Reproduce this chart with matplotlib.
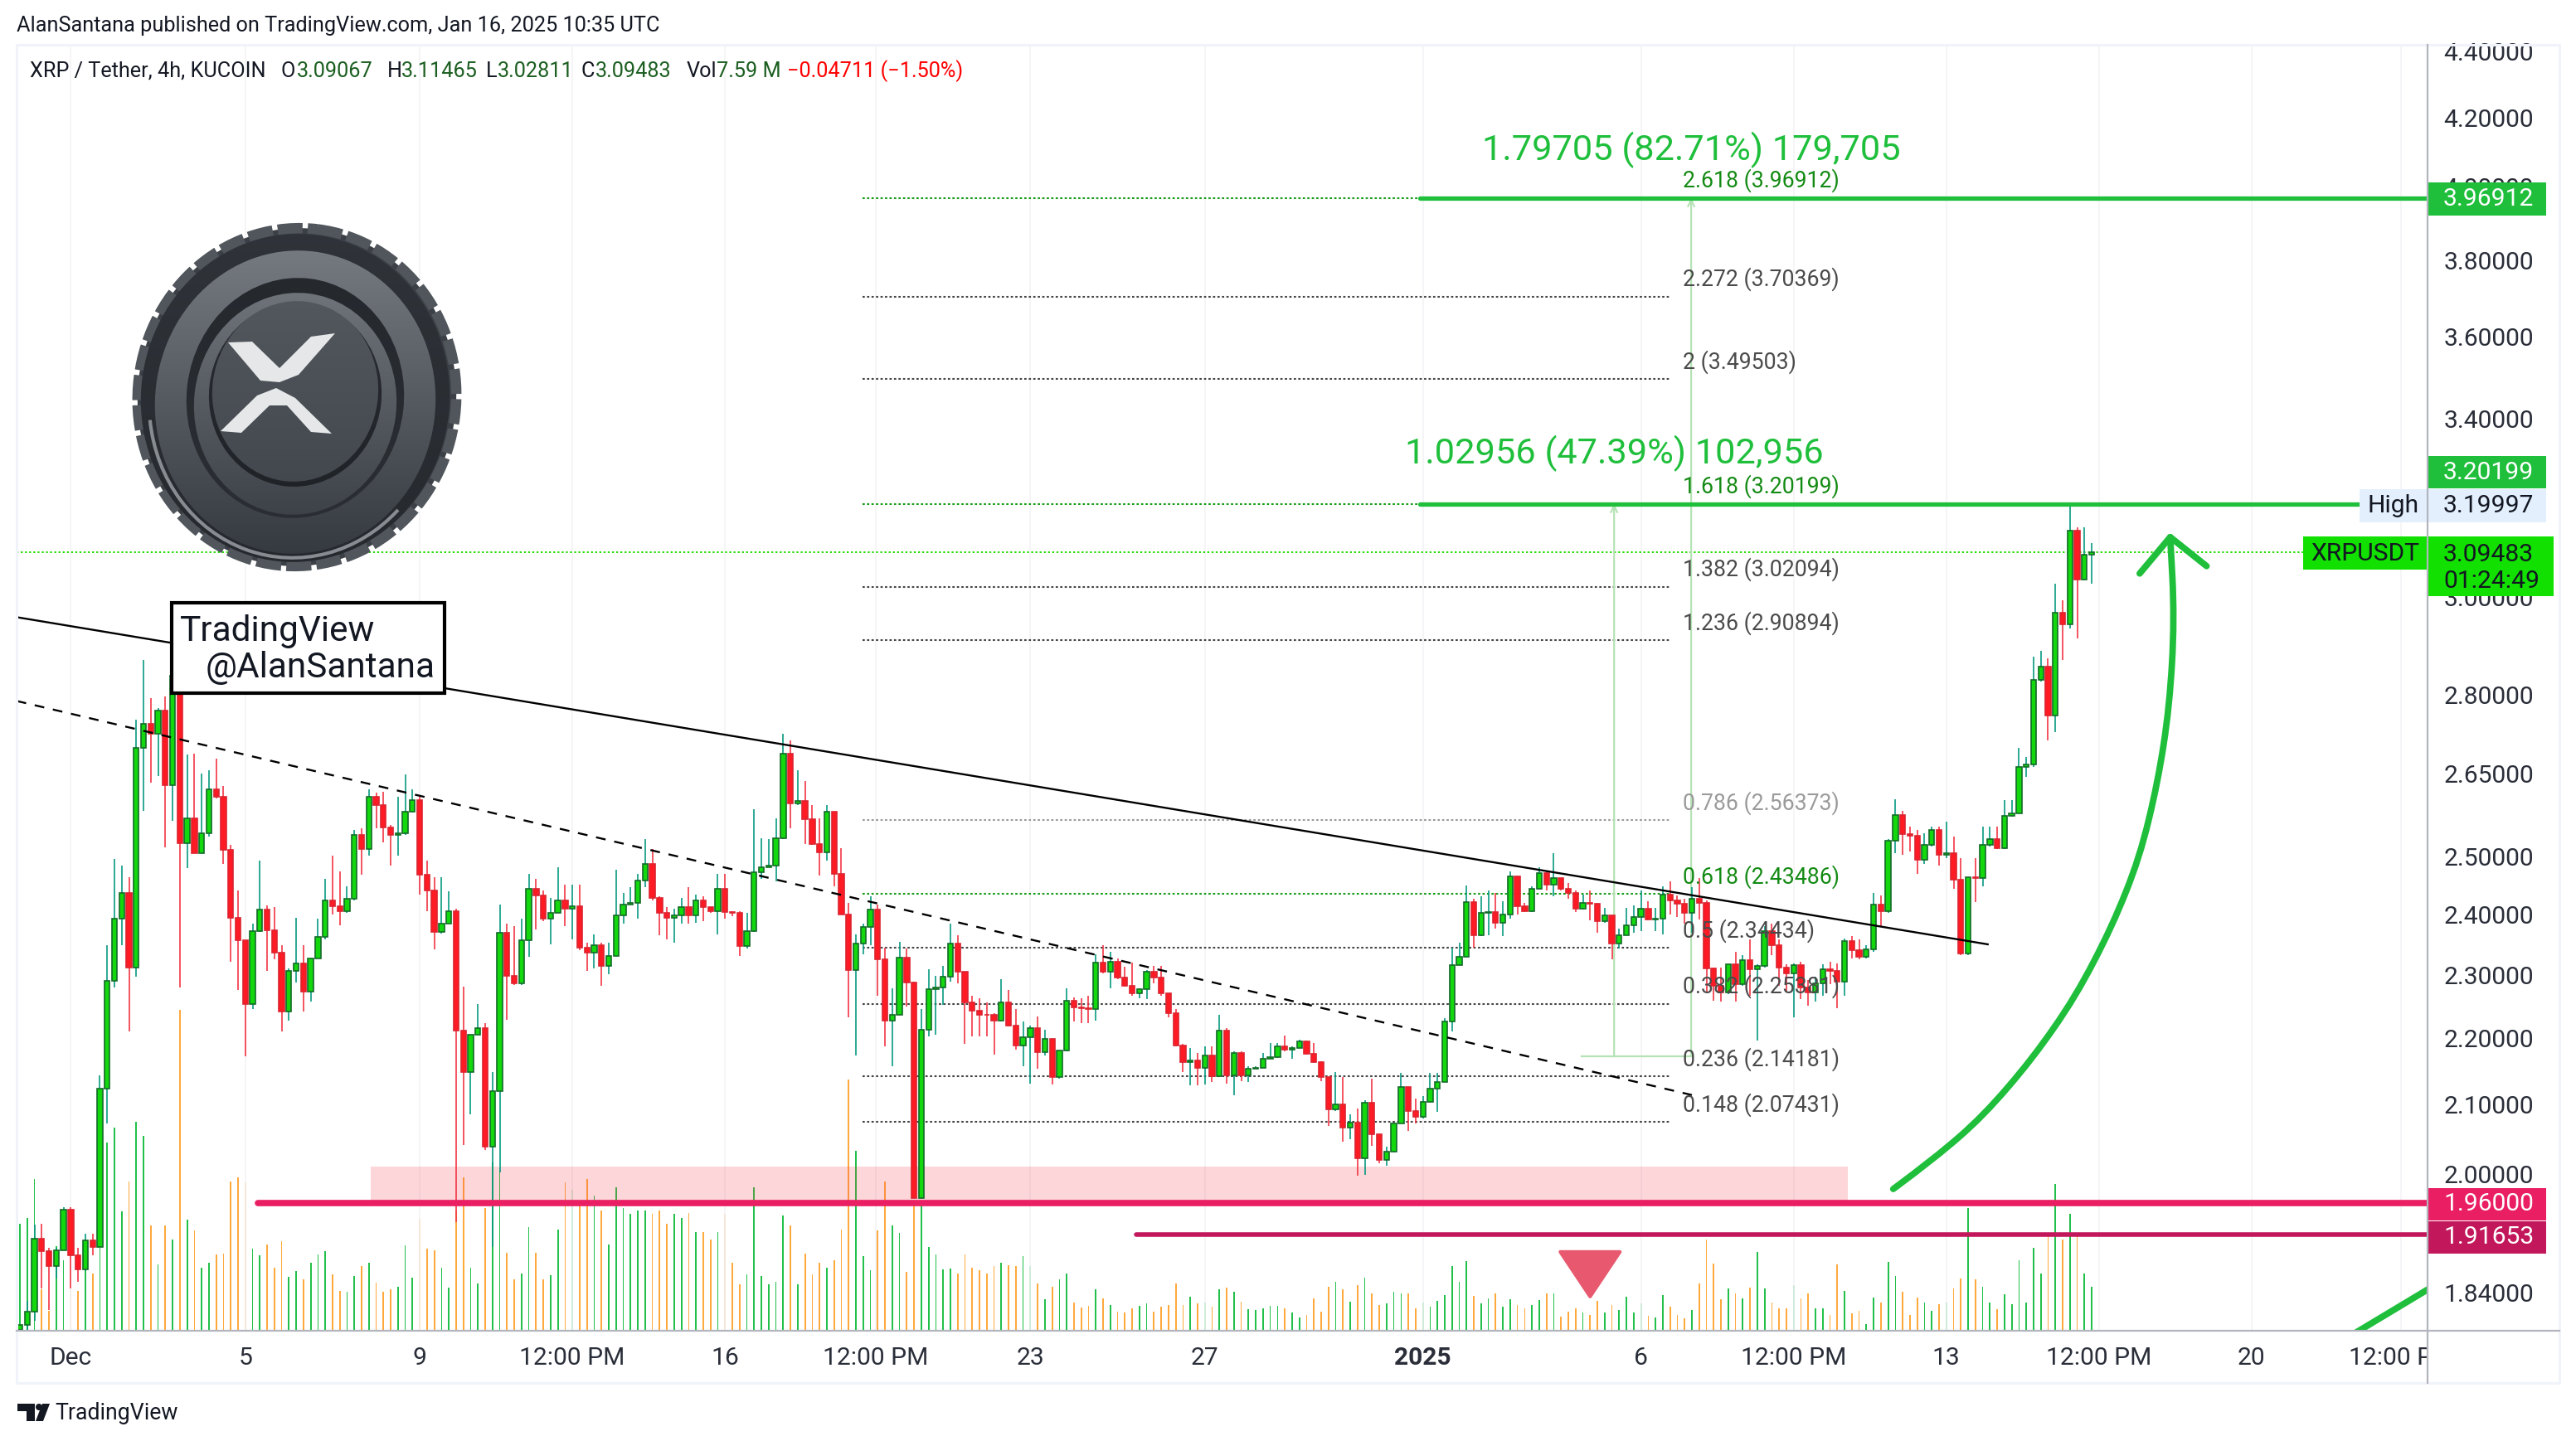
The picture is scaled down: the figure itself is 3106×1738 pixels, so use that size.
import matplotlib
matplotlib.use('Agg')
import matplotlib.pyplot as plt
import numpy as np
from matplotlib.patches import Rectangle, Ellipse, Polygon, Arc, PathPatch
from matplotlib.path import Path
from matplotlib.ticker import FixedLocator, FixedFormatter, NullLocator

plt.rcParams['font.family'] = ['Roboto', 'DejaVu Sans']

first_open = 1.793
closes = [1.799, 1.816, 1.911, 1.895, 1.875, 1.896, 1.950, 1.889, 1.870, 1.909, 1.900, 2.123, 2.290, 2.393, 2.436, 2.312,
  2.697, 2.744, 2.724, 2.770, 2.628, 2.838, 2.523, 2.567, 2.506, 2.541, 2.620, 2.606, 2.511, 2.394, 2.357, 2.254,
  2.372, 2.408, 2.373, 2.336, 2.242, 2.307, 2.318, 2.273, 2.327, 2.362, 2.423, 2.414, 2.405, 2.426, 2.538, 2.513,
  2.606, 2.592, 2.551, 2.537, 2.540, 2.580, 2.600, 2.468, 2.441, 2.371, 2.384, 2.406, 2.212, 2.148, 2.205, 2.216,
  2.039, 2.120, 2.369, 2.299, 2.286, 2.357, 2.444, 2.432, 2.393, 2.402, 2.423, 2.409, 2.414, 2.345, 2.336, 2.348,
  2.314, 2.331, 2.398, 2.417, 2.420, 2.458, 2.486, 2.428, 2.402, 2.394, 2.399, 2.413, 2.398, 2.423, 2.413, 2.406,
  2.443, 2.404, 2.402, 2.347, 2.372, 2.472, 2.481, 2.483, 2.532, 2.686, 2.595, 2.599, 2.566, 2.522, 2.507, 2.580,
  2.469, 2.400, 2.308, 2.351, 2.379, 2.408, 2.326, 2.228, 2.237, 2.328, 2.288, 1.966, 2.213, 2.277, 2.280, 2.297,
  2.351, 2.305, 2.256, 2.243, 2.237, 2.236, 2.228, 2.256, 2.219, 2.189, 2.201, 2.216, 2.178, 2.199, 2.141, 2.181,
  2.259, 2.248, 2.247, 2.246, 2.320, 2.305, 2.321, 2.296, 2.283, 2.270, 2.277, 2.305, 2.296, 2.270, 2.239, 2.189,
  2.164, 2.166, 2.155, 2.173, 2.142, 2.212, 2.144, 2.177, 2.144, 2.153, 2.155, 2.168, 2.171, 2.187, 2.183, 2.185,
  2.195, 2.176, 2.163, 2.141, 2.093, 2.100, 2.066, 2.073, 2.022, 2.102, 2.056, 2.020, 2.032, 2.072, 2.126, 2.091,
  2.082, 2.104, 2.123, 2.134, 2.226, 2.316, 2.329, 2.421, 2.365, 2.402, 2.404, 2.386, 2.400, 2.465, 2.414, 2.406,
  2.444, 2.470, 2.451, 2.462, 2.443, 2.437, 2.409, 2.420, 2.418, 2.388, 2.398, 2.351, 2.365, 2.381, 2.396, 2.410,
  2.391, 2.393, 2.434, 2.424, 2.418, 2.402, 2.426, 2.419, 2.311, 2.282, 2.272, 2.317, 2.285, 2.324, 2.309, 2.314,
  2.372, 2.348, 2.312, 2.302, 2.316, 2.280, 2.272, 2.287, 2.309, 2.307, 2.289, 2.356, 2.340, 2.329, 2.342, 2.416,
  2.405, 2.528, 2.574, 2.539, 2.536, 2.493, 2.520, 2.546, 2.502, 2.506, 2.459, 2.335, 2.464, 2.462, 2.520, 2.531,
  2.514, 2.572, 2.577, 2.661, 2.666, 2.830, 2.856, 2.760, 2.967, 2.943, 3.142, 3.036, 3.090, 3.09483]
highs = [1.799, 1.829, 1.930, 1.931, 1.899, 1.899, 1.954, 1.954, 1.899, 1.918, 1.918, 2.144, 2.349, 2.495, 2.483, 2.464,
  2.752, 2.870, 2.794, 2.774, 2.797, 2.902, 2.870, 2.685, 2.687, 2.650, 2.655, 2.678, 2.626, 2.520, 2.441, 2.355,
  2.384, 2.492, 2.415, 2.412, 2.349, 2.310, 2.394, 2.349, 2.327, 2.393, 2.460, 2.501, 2.474, 2.447, 2.546, 2.549,
  2.620, 2.614, 2.616, 2.556, 2.606, 2.648, 2.621, 2.606, 2.492, 2.464, 2.464, 2.439, 2.410, 2.281, 2.205, 2.254,
  2.224, 2.148, 2.417, 2.384, 2.380, 2.393, 2.469, 2.460, 2.441, 2.428, 2.480, 2.451, 2.451, 2.451, 2.353, 2.366,
  2.353, 2.353, 2.476, 2.437, 2.446, 2.469, 2.530, 2.513, 2.431, 2.412, 2.410, 2.428, 2.446, 2.433, 2.430, 2.409,
  2.469, 2.469, 2.406, 2.406, 2.402, 2.584, 2.532, 2.530, 2.568, 2.725, 2.712, 2.655, 2.636, 2.592, 2.568, 2.592,
  2.580, 2.514, 2.419, 2.367, 2.385, 2.430, 2.417, 2.345, 2.278, 2.354, 2.343, 2.289, 2.246, 2.309, 2.299, 2.315,
  2.384, 2.365, 2.305, 2.266, 2.262, 2.256, 2.239, 2.293, 2.276, 2.245, 2.226, 2.219, 2.234, 2.213, 2.199, 2.181,
  2.278, 2.264, 2.262, 2.266, 2.334, 2.349, 2.337, 2.327, 2.313, 2.320, 2.279, 2.308, 2.315, 2.315, 2.269, 2.246,
  2.191, 2.185, 2.177, 2.188, 2.188, 2.237, 2.216, 2.180, 2.180, 2.157, 2.157, 2.177, 2.193, 2.193, 2.204, 2.187,
  2.198, 2.196, 2.193, 2.165, 2.141, 2.149, 2.141, 2.085, 2.094, 2.106, 2.139, 2.056, 2.039, 2.072, 2.147, 2.126,
  2.109, 2.112, 2.147, 2.147, 2.231, 2.345, 2.353, 2.449, 2.426, 2.430, 2.440, 2.437, 2.422, 2.473, 2.465, 2.419,
  2.447, 2.480, 2.473, 2.506, 2.462, 2.454, 2.440, 2.434, 2.440, 2.419, 2.411, 2.398, 2.376, 2.411, 2.415, 2.440,
  2.422, 2.411, 2.448, 2.456, 2.432, 2.427, 2.446, 2.462, 2.424, 2.312, 2.312, 2.317, 2.338, 2.332, 2.358, 2.317,
  2.380, 2.385, 2.358, 2.317, 2.319, 2.322, 2.292, 2.297, 2.317, 2.322, 2.319, 2.360, 2.364, 2.358, 2.348, 2.437,
  2.432, 2.530, 2.602, 2.581, 2.552, 2.546, 2.541, 2.552, 2.552, 2.562, 2.535, 2.497, 2.464, 2.497, 2.552, 2.552,
  2.552, 2.601, 2.601, 2.698, 2.680, 2.876, 2.888, 2.873, 3.028, 2.992, 3.19997, 3.149, 3.149, 3.11465]
lows = [1.793, 1.793, 1.804, 1.845, 1.818, 1.858, 1.898, 1.845, 1.854, 1.868, 1.889, 1.900, 2.072, 2.280, 2.349, 2.211,
  2.297, 2.581, 2.632, 2.645, 2.515, 2.563, 2.280, 2.479, 2.506, 2.506, 2.535, 2.604, 2.486, 2.321, 2.276, 2.172,
  2.245, 2.371, 2.306, 2.326, 2.210, 2.228, 2.288, 2.242, 2.257, 2.327, 2.358, 2.400, 2.382, 2.402, 2.423, 2.468,
  2.501, 2.549, 2.525, 2.483, 2.501, 2.537, 2.578, 2.433, 2.406, 2.342, 2.368, 2.384, 1.934, 2.041, 2.085, 2.205,
  2.034, 1.900, 2.002, 2.229, 2.284, 2.284, 2.330, 2.375, 2.388, 2.350, 2.402, 2.380, 2.358, 2.340, 2.306, 2.310,
  2.283, 2.301, 2.333, 2.384, 2.417, 2.393, 2.446, 2.424, 2.365, 2.358, 2.353, 2.384, 2.384, 2.386, 2.388, 2.402,
  2.366, 2.393, 2.397, 2.331, 2.343, 2.371, 2.460, 2.481, 2.456, 2.530, 2.549, 2.592, 2.522, 2.520, 2.467, 2.492,
  2.447, 2.400, 2.233, 2.173, 2.334, 2.348, 2.266, 2.188, 2.157, 2.236, 2.249, 1.966, 1.966, 2.203, 2.206, 2.252,
  2.289, 2.286, 2.191, 2.203, 2.203, 2.203, 2.175, 2.226, 2.218, 2.183, 2.157, 2.131, 2.154, 2.173, 2.130, 2.138,
  2.180, 2.226, 2.223, 2.223, 2.228, 2.303, 2.278, 2.293, 2.281, 2.267, 2.262, 2.261, 2.286, 2.266, 2.233, 2.188,
  2.149, 2.128, 2.128, 2.130, 2.133, 2.141, 2.131, 2.114, 2.135, 2.133, 2.153, 2.155, 2.168, 2.170, 2.180, 2.168,
  2.185, 2.175, 2.162, 2.135, 2.069, 2.091, 2.046, 2.049, 1.997, 1.999, 2.040, 2.015, 2.012, 2.031, 2.072, 2.061,
  2.072, 2.080, 2.104, 2.089, 2.133, 2.211, 2.316, 2.329, 2.345, 2.364, 2.365, 2.376, 2.364, 2.393, 2.400, 2.404,
  2.404, 2.444, 2.440, 2.431, 2.440, 2.426, 2.404, 2.408, 2.390, 2.369, 2.386, 2.325, 2.343, 2.365, 2.369, 2.372,
  2.390, 2.372, 2.367, 2.400, 2.395, 2.385, 2.369, 2.392, 2.272, 2.259, 2.257, 2.269, 2.257, 2.282, 2.266, 2.197,
  2.312, 2.332, 2.282, 2.272, 2.233, 2.261, 2.251, 2.257, 2.266, 2.285, 2.247, 2.266, 2.327, 2.325, 2.327, 2.338,
  2.380, 2.402, 2.506, 2.503, 2.508, 2.469, 2.486, 2.517, 2.484, 2.497, 2.443, 2.332, 2.332, 2.421, 2.448, 2.517,
  2.512, 2.512, 2.570, 2.576, 2.644, 2.662, 2.826, 2.712, 2.728, 2.870, 2.934, 2.914, 3.035, 3.02811]
volumes = [18.5, 19.4, 26.1, 7.1, 3.5, 14.6, 12.1, 7.1, 6.9, 10.8, 9.8, 14.4, 32.5, 35.1, 20.6, 25.8, 36.1, 33.6, 18.1, 11.5,
  18.2, 15.8, 55.4, 19.2, 17.3, 10.9, 11.7, 13.2, 13.3, 25.8, 26.5, 25.6, 14.2, 13.0, 14.9, 10.9, 15.5, 9.3, 10.3, 8.9,
  11.7, 13.2, 13.7, 9.7, 6.9, 6.7, 9.4, 11.2, 11.7, 8.3, 6.7, 7.1, 7.6, 14.8, 9.1, 19.3, 14.2, 13.8, 10.9, 7.5,
  20.8, 26.5, 10.8, 8.2, 21.1, 29.0, 28.1, 13.5, 8.9, 9.8, 17.9, 13.5, 8.9, 9.6, 17.4, 25.6, 24.3, 21.7, 26.1, 23.3,
  20.8, 14.9, 24.7, 21.2, 20.2, 20.8, 20.8, 20.1, 20.8, 18.5, 20.1, 19.4, 20.3, 17.0, 17.0, 15.8, 17.0, 20.1, 11.7, 8.0,
  9.7, 24.7, 9.4, 8.0, 8.5, 19.9, 18.1, 8.0, 13.3, 9.7, 11.7, 10.8, 12.2, 17.5, 43.4, 31.0, 12.9, 10.5, 17.3, 25.7,
  18.2, 16.9, 10.1, 21.7, 21.7, 14.4, 13.1, 10.6, 10.7, 9.9, 13.1, 10.9, 10.4, 9.8, 11.1, 11.7, 11.3, 11.1, 12.9, 11.2,
  8.2, 5.5, 7.6, 8.8, 9.8, 4.9, 4.0, 4.3, 7.2, 5.6, 4.4, 3.3, 3.1, 3.8, 4.3, 4.7, 3.3, 4.2, 4.4, 8.2,
  4.5, 5.8, 4.7, 4.9, 4.2, 7.2, 7.5, 6.7, 5.0, 3.7, 3.6, 3.8, 4.3, 4.3, 3.8, 3.1, 2.3, 2.7, 5.6, 3.3,
  7.6, 8.4, 7.2, 5.0, 7.8, 9.1, 6.5, 4.5, 4.7, 6.7, 6.5, 6.4, 3.8, 4.9, 4.2, 5.1, 6.2, 11.1, 8.4, 12.0,
  6.0, 4.7, 5.6, 6.4, 4.2, 5.5, 4.4, 3.8, 4.5, 5.3, 6.5, 6.5, 2.5, 3.3, 3.8, 3.1, 2.7, 5.1, 3.2, 4.5,
  3.6, 5.8, 3.2, 4.7, 2.6, 2.3, 6.2, 4.1, 2.7, 2.2, 3.6, 8.1, 15.7, 11.6, 5.4, 7.3, 6.5, 5.6, 7.4, 13.6,
  7.3, 4.9, 3.8, 3.8, 7.9, 5.6, 6.5, 3.8, 3.8, 2.7, 11.4, 6.8, 3.0, 3.5, 1.1, 5.7, 4.9, 11.9, 9.4, 6.7,
  2.7, 5.7, 4.9, 3.5, 4.6, 4.9, 7.3, 9.0, 21.1, 8.9, 7.6, 4.9, 3.7, 6.3, 4.6, 12.1, 4.9, 14.3, 9.8, 16.3,
  25.3, 15.7, 20.1, 16.8, 9.8, 7.59]

fib_ratios = ['2.618', '2.272', '2', '1.618', '1.382', '1.236', '0.786', '0.618', '0.5', '0.382', '0.236', '0.148']
fib_prices = [3.96912, 3.70369, 3.49503, 3.20199, 3.02094, 2.90894, 2.56373, 2.43486, 2.34434, 2.25381, 2.14181, 2.07431]
fib_colors = ['#1a9c1a', '#444444', '#444444', '#1a9c1a', '#444444', '#444444', '#9a9a9a', '#1a9c1a', '#444444', '#444444', '#444444', '#444444']

price_ticks = [4.4, 4.2, 4.0, 3.8, 3.6, 3.4, 3.0, 2.8, 2.65, 2.5, 2.4, 2.3, 2.2, 2.1, 2.0, 1.84]
time_ticks = [8, 32, 56, 77, 98, 118.7, 140, 164, 194, 224, 245, 266, 287, 308, 328.6]
time_labels = ['Dec', '5', '9', '12:00 PM', '16', '12:00 PM', '23', '27', '2025', '6', '12:00 PM', '13', '12:00 PM', '20', '12:00 PM']

# trend lines, (bar, price)
trend_solid = ([0.54, 271.7], [2.957, 2.350])
trend_dash = ([0.54, 231], [2.788, 2.114])
# drawn arrow
arrow_bars = [258.7, 264.4, 271.1, 277.9, 283.8, 288.8, 292.6, 295.1, 296.7, 297.4, 296.8]
arrow_prices = [1.979, 2.022, 2.083, 2.169, 2.265, 2.379, 2.497, 2.633, 2.776, 2.953, 3.128]
head_bars = [292.6, 296.8, 301.8]
head_prices = [3.049, 3.128, 3.065]

W, H = 3106, 1738
LEFT, RIGHT, TOP, BOTTOM = 20, 2927, 54, 1605
GREEN = '#1fbf3c'
UP_BODY, UP_EDGE, UP_WICK, UP_VOL = '#14d80e', '#126b28', '#089981', '#22c04a'
DN_BODY, DN_EDGE, DN_WICK, DN_VOL = '#ff1a24', '#dc2430', '#f23645', '#ffa93d'
TEXT = '#131722'

bars = np.arange(1, len(closes) + 1)
opens = [first_open] + closes[:-1]
o, h, l, c = map(np.array, (opens, highs, lows, closes))
up = c >= o

fig = plt.figure(figsize=(W / 100, H / 100), dpi=100, facecolor='white')
rect = [LEFT / W, 1 - BOTTOM / H, (RIGHT - LEFT) / W, (BOTTOM - TOP) / H]

# volume pane sits under the price pane
vol = fig.add_axes(rect, zorder=1)
vol.set_xlim(0.54, 332.2)
vol.set_ylim(0, 221.8)
vol.axis('off')
vol.bar(bars, volumes, width=0.2, color=[UP_VOL if u else DN_VOL for u in up])

ax = fig.add_axes(rect, zorder=2)
ax.patch.set_alpha(0)
ax.set_yscale('log')
ax.set_xlim(0.54, 332.2)
ax.set_ylim(1.7915, 4.42)
for s in ax.spines.values():
  s.set_visible(False)
ax.yaxis.tick_right()
ax.yaxis.set_major_locator(FixedLocator(price_ticks))
ax.yaxis.set_major_formatter(FixedFormatter([f'{p:.5f}' for p in price_ticks]))
ax.yaxis.set_minor_locator(NullLocator())
ax.set_xticks(time_ticks)
ax.set_xticklabels(time_labels)
ax.tick_params(axis='both', length=0, labelsize=21.6, labelcolor='#2a2e39')
ax.tick_params(axis='y', pad=14)
ax.tick_params(axis='x', pad=14)
ax.get_xticklabels()[8].set_fontweight('bold')
ax.set_axisbelow(True)
ax.grid(axis='x', color='#f3f4f6', lw=1.2)

ax.add_patch(Rectangle((49.2, 1.96), 203.3, 2.0105 - 1.96, facecolor='#f23645', alpha=0.2, lw=0, zorder=1))

# fib levels
for r, p, col in zip(fib_ratios, fib_prices, fib_colors):
  ax.plot([116.9, 227.9], [p, p], color=col, lw=1.5, ls=(0, (1.3, 1.3)), zorder=1.5)

ax.axhline(closes[-1], color='#22dd00', lw=1.4, ls=(0, (1.2, 1.4)), zorder=1.5)

# candles
ax.vlines(bars[up], l[up], h[up], color=UP_WICK, lw=1.2, zorder=3)
ax.vlines(bars[~up], l[~up], h[~up], color=DN_WICK, lw=1.2, zorder=3)
ax.bar(bars[up], (c - o)[up], bottom=o[up], width=0.72, color=UP_BODY, edgecolor=UP_EDGE, lw=1.2, zorder=4)
ax.bar(bars[~up], (o - c)[~up], bottom=c[~up], width=0.72, color=DN_BODY, edgecolor=DN_EDGE, lw=1.2, zorder=4)

ax.plot(*trend_solid, color='black', lw=1.7, zorder=5)
ax.plot(*trend_dash, color='black', lw=1.7, ls=(0, (5, 4.5)), zorder=5)

# measure tool
for bar, top in [(220.3, 3.20199), (230.9, 3.96912)]:
  ax.annotate('', xy=(bar, top), xytext=(bar, 2.172), zorder=2,
    arrowprops=dict(arrowstyle='->', color='#b5e3b5', lw=1.6, shrinkA=0, shrinkB=0, mutation_scale=14))
ax.plot([215.8, 230.9], [2.172, 2.172], color='#b5e3b5', lw=1.6, zorder=2)

ax.plot([193.6, 332.2], [3.96912, 3.96912], color=GREEN, lw=3.8, solid_capstyle='round', zorder=6)
ax.plot([193.6, 332.2], [3.20199, 3.20199], color=GREEN, lw=3.8, solid_capstyle='round', zorder=6)
ax.plot([33.7, 332.2], [1.96, 1.96], color='#e91e63', lw=5.5, solid_capstyle='round', zorder=6)
ax.plot([154.6, 332.2], [1.91653, 1.91653], color='#c2185b', lw=4, solid_capstyle='round', zorder=6)

ax.add_patch(Polygon([(212.9, 1.8935), (221.1, 1.8935), (217, 1.835)], closed=True, facecolor='#e8596f',
  edgecolor='#e8596f', lw=3, joinstyle='round', zorder=6))

# smooth hand drawn arrow through the read points
pts = list(zip(arrow_bars, arrow_prices))
verts = [pts[0]]
codes = [Path.MOVETO]
for a, b in zip(pts[1:-1], pts[2:]):
  verts += [a, ((a[0] + b[0]) / 2, (a[1] + b[1]) / 2)]
  codes += [Path.CURVE3, Path.CURVE3]
verts.append(pts[-1])
codes.append(Path.LINETO)
ax.add_patch(PathPatch(Path(verts, codes), facecolor='none', edgecolor=GREEN, lw=5.6, capstyle='round', zorder=6))
ax.plot(head_bars, head_prices, color=GREEN, lw=5.6, solid_capstyle='round', solid_joinstyle='round', zorder=6)
ax.plot([322.5, 332.2], [1.79, 1.844], color=GREEN, lw=5.6, zorder=6)

for r, p, col in zip(fib_ratios, fib_prices, fib_colors):
  tc = {'#1a9c1a': '#138a13', '#444444': '#4a4a4a', '#9a9a9a': '#9a9a9a'}[col]
  ax.annotate(f'{r} ({p:.5f})', xy=(229.8, p), xytext=(0, 15), textcoords='offset points', fontsize=19.2,
    color=tc, va='center', ha='left', zorder=7)

ax.text(230.9, 4.105, '1.79705 (82.71%) 179,705', color=GREEN, fontsize=31.2, ha='center', va='center', zorder=7)
ax.text(220.3, 3.318, '1.02956 (47.39%) 102,956', color=GREEN, fontsize=31.2, ha='center', va='center', zorder=7)

# everything on top of the panes, in picture pixels
over = fig.add_axes([0, 0, 1, 1], zorder=5)
over.set_xlim(0, W)
over.set_ylim(H, 0)
over.axis('off')
over.patch.set_alpha(0)

over.add_patch(Rectangle((RIGHT + 1, BOTTOM + 2), 3084 - RIGHT, 1666 - BOTTOM, color='white', lw=0))
frame = '#f0f3fa'
over.plot([LEFT, 3086, 3086, LEFT, LEFT], [TOP, TOP, 1668, 1668, TOP], color=frame, lw=2.2)
over.plot([LEFT, 3086], [BOTTOM, BOTTOM], color='#b2b5be', lw=1.6)
over.plot([RIGHT, RIGHT], [TOP, 1668], color='#b2b5be', lw=1.6)

over.text(20, 31, 'AlanSantana published on TradingView.com, Jan 16, 2025 10:35 UTC', fontsize=18.2, color=TEXT, va='center')
over.text(36, 86, 'XRP / Tether, 4h, KUCOIN', fontsize=18.2, color=TEXT, va='center')
dark_green = '#1b5e20'
for x, s, col in [(339, 'O', TEXT), (358, '3.09067', dark_green), (467, 'H', TEXT), (484, '3.11465', dark_green),
                  (586, 'L', TEXT), (600, '3.02811', dark_green), (700, 'C', TEXT), (718, '3.09483', dark_green),
                  (828, 'Vol', TEXT), (864, '7.59 M', dark_green), (949, '−0.04711 (−1.50%)', '#ff0000')]:
  over.text(x, 86, s, fontsize=18.2, color=col, va='center')

# price labels
def price_box(y0, y1, txt, bg, fg, x1=3070):
  over.add_patch(Rectangle((RIGHT + 1, y0), x1 - RIGHT - 1, y1 - y0, color=bg, lw=0))
  over.text(2946, (y0 + y1) / 2, txt, fontsize=21.6, color=fg, va='center', ha='left')

price_box(220, 260, '3.96912', GREEN, 'white')
price_box(550, 589, '3.20199', GREEN, 'white')
price_box(590, 630, '3.19997', '#e3effd', TEXT)
over.add_patch(Rectangle((2845, 590), RIGHT - 2845, 40, color='#e3effd', lw=0))
over.text(2886, 610, 'High', fontsize=21.6, color=TEXT, va='center', ha='center')
over.add_patch(Rectangle((2777, 647), RIGHT - 2777, 40, color='#11e000', lw=0))
over.text(2852, 668, 'XRPUSDT', fontsize=21.6, color=TEXT, va='center', ha='center')
over.add_patch(Rectangle((RIGHT + 1, 647), 3079 - RIGHT - 1, 72, color='#11e000', lw=0))
over.text(2946, 669, '3.09483', fontsize=21.6, color=TEXT, va='center')
over.text(2946, 701, '01:24:49', fontsize=21.6, color=TEXT, va='center')
price_box(1433, 1472, '1.96000', '#e91e63', 'white')
price_box(1473, 1512, '1.91653', '#c2185b', 'white')

# watermark box
over.add_patch(Rectangle((207, 727), 329, 109, facecolor='white', edgecolor='black', lw=3, zorder=8))
over.text(217, 761, 'TradingView', fontsize=30.5, color=TEXT, va='center', zorder=9)
over.text(248, 805, '@AlanSantana', fontsize=30.5, color=TEXT, va='center', zorder=9)

# coin
tilt = 7
over.add_patch(Ellipse((358, 479), 384, 408, angle=tilt, facecolor='#3b4046', edgecolor='#50565c', lw=9,
  ls=(0, (2.4, 0.5)), zorder=3))
def layer(w, ht, top, bottom, zo, cx=356, cy=480):
  e = Ellipse((cx, cy), w, ht, angle=tilt, facecolor='none', edgecolor='none', zorder=zo)
  over.add_patch(e)
  g = np.linspace(0, 1, 200)[:, None]
  t, b = np.array(matplotlib.colors.to_rgb(top)), np.array(matplotlib.colors.to_rgb(bottom))
  img = (t + (b - t) * g)[:, None, :].reshape(200, 1, 3)
  im = over.imshow(img, extent=(cx - w / 2 - 20, cx + w / 2 + 20, cy + ht / 2 + 20, cy - ht / 2 - 20), aspect='auto', zorder=zo)
  im.set_clip_path(e)

layer(372, 396, '#30343a', '#25282d', 3.1)
layer(338, 366, '#777d82', '#32373e', 3.2, cy=485)
layer(262, 290, '#25282d', '#2b2e34', 3.3)
layer(244, 268, '#71777c', '#3a3f46', 3.4, cy=487)
layer(208, 222, '#2a2d33', '#1f2226', 3.5, cy=476)
layer(200, 218, '#53595f', '#42474e', 3.6, cy=472)
over.set_xlim(0, W)
over.set_ylim(H, 0)
over.add_patch(Arc((356, 482), 352, 382, angle=tilt, theta1=40, theta2=165, color='#868c91', lw=3, zorder=3.7))
over.add_patch(Polygon([(275, 413), (304, 412), (337, 444), (375, 406), (404, 402), (360, 452), (337, 461), (314, 459)],
  closed=True, facecolor='#e6e7e8', lw=0, zorder=3.8))
over.add_patch(Polygon([(266, 520), (291, 522), (325, 489), (346, 489), (375, 521), (400, 523), (356, 480), (333, 468), (310, 477)],
  closed=True, facecolor='#e6e7e8', lw=0, zorder=3.8))

# TradingView logo
over.add_patch(Polygon([(21, 1693), (42, 1693), (42, 1714), (32, 1714), (32, 1702), (21, 1702)], closed=True, color=TEXT, lw=0))
over.add_patch(Ellipse((47, 1697), 8, 8, color=TEXT, lw=0))
over.add_patch(Polygon([(43, 1714), (51, 1693), (60, 1693), (52, 1714)], closed=True, color=TEXT, lw=0))
over.text(66, 1704, 'TradingView', fontsize=19.2, color=TEXT, va='center')

fig.savefig('out.png', dpi=100)
